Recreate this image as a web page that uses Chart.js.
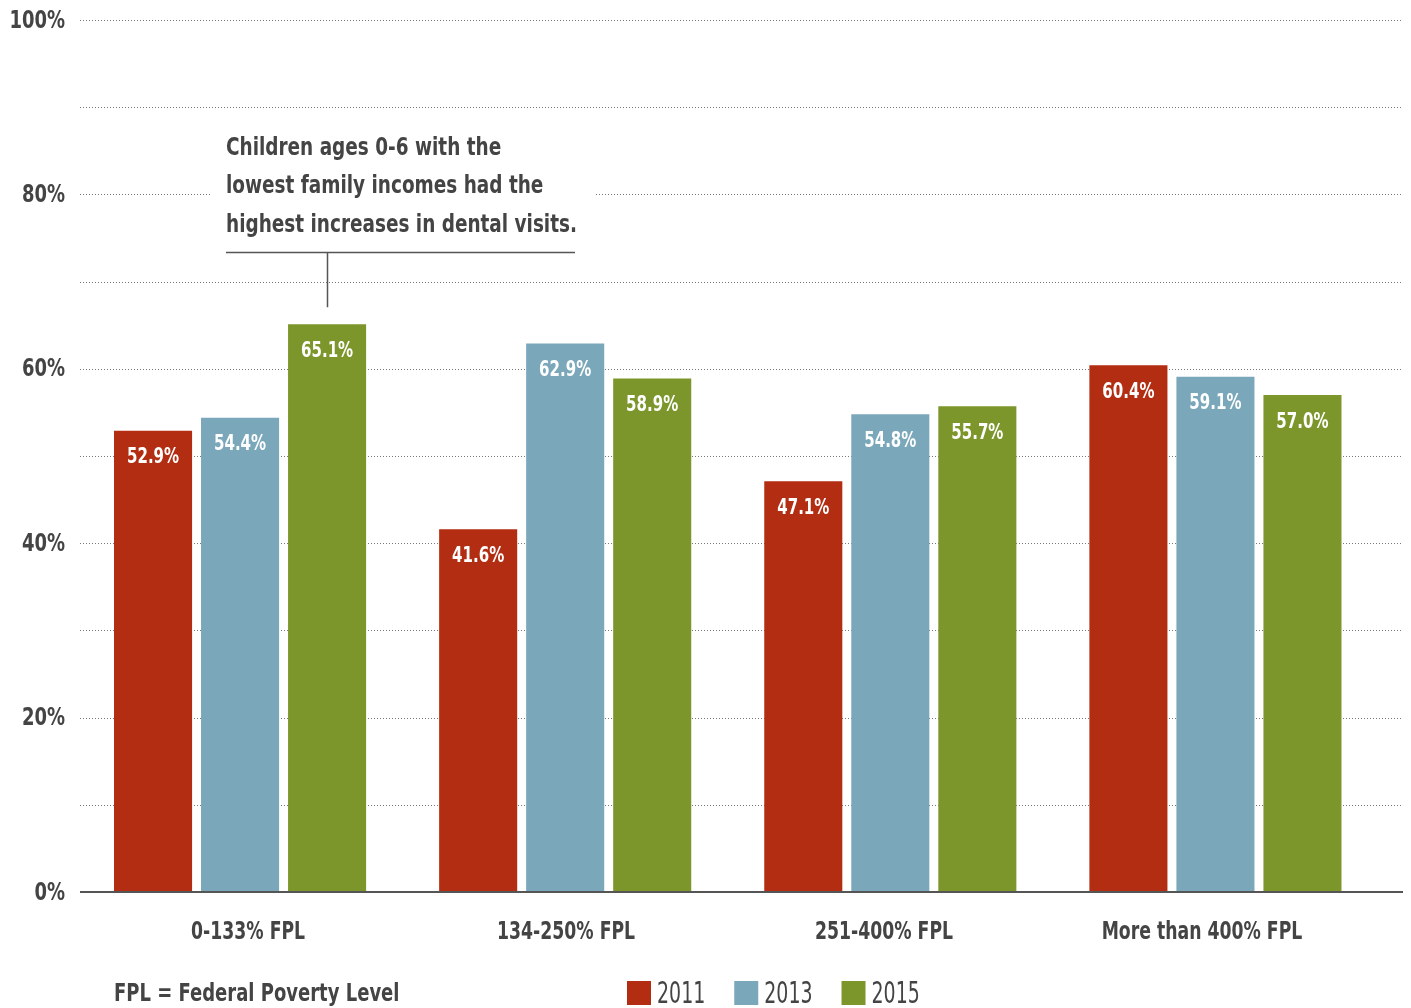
<!DOCTYPE html>
<html>
<head>
<meta charset="utf-8">
<script src="https://cdn.jsdelivr.net/npm/chart.js@4.4.1/dist/chart.umd.min.js"></script>
<style>
  html, body { margin: 0; padding: 0; background: #fff; }
  #wrap { width: 1411px; height: 1008px; }
</style>
</head>
<body>
<div id="wrap"><canvas id="myChart" width="1411" height="1008"></canvas></div>
<script>
// data
const categories = ['0-133% FPL', '134-250% FPL', '251-400% FPL', 'More than 400% FPL'];
const years = ['2011', '2013', '2015'];
const values2011 = [52.9, 41.6, 47.1, 60.4];
const values2013 = [54.4, 62.9, 54.8, 59.1];
const values2015 = [65.1, 58.9, 55.7, 57.0];
const colors = ['#b22d12', '#7aa7ba', '#7c962b'];
const annotationLines = [
  'Children ages 0-6 with the',
  'lowest family incomes had the',
  'highest increases in dental visits.'
];
const footnote = 'FPL = Federal Poverty Level';

const FONT = '"DejaVu Sans Condensed", "DejaVu Sans", sans-serif';
const TEXT = '#444444';

// the original typeface is a narrow one, so squeeze text horizontally
function squeezeText(ctx, text, x, y, sx) {
  ctx.save();
  ctx.translate(x, y);
  ctx.scale(sx, 1);
  ctx.fillText(text, 0, 0);
  ctx.restore();
}

// dotted grid + solid baseline, drawn wider than the category area
const gridPlugin = {
  id: 'gridPlugin',
  beforeDatasetsDraw(chart) {
    const ctx = chart.ctx;
    const y = chart.scales.y;
    const x0 = 80, x1 = chart.width - 8;
    ctx.save();
    ctx.strokeStyle = '#777';
    ctx.lineWidth = 1;
    ctx.setLineDash([1, 2]);
    for (let v = 10; v <= 100; v += 10) {
      const py = Math.round(y.getPixelForValue(v)) + 0.5;
      ctx.beginPath();
      ctx.moveTo(x0, py);
      ctx.lineTo(x1, py);
      ctx.stroke();
    }
    ctx.restore();
  },
  afterDatasetsDraw(chart) {
    const ctx = chart.ctx;
    const py = chart.scales.y.getPixelForValue(0);
    ctx.save();
    ctx.strokeStyle = '#555';
    ctx.lineWidth = 2;
    ctx.beginPath();
    ctx.moveTo(80, py);
    ctx.lineTo(chart.width - 8, py);
    ctx.stroke();
    ctx.restore();
  }
};

// tick labels taken from the scales, drawn narrow
const tickLabels = {
  id: 'tickLabels',
  afterDraw(chart) {
    const ctx = chart.ctx;
    const xs = chart.scales.x, ys = chart.scales.y;
    ctx.save();
    ctx.fillStyle = TEXT;
    ctx.textBaseline = 'middle';
    ctx.font = 'bold 25px ' + FONT;
    ctx.textAlign = 'right';
    ys.ticks.forEach((t, i) => {
      if (t.value % 20 === 0) squeezeText(ctx, t.value + '%', 65, ys.getPixelForTick(i) + 1, 0.8);
    });
    ctx.font = 'bold 24px ' + FONT;
    ctx.textAlign = 'center';
    // category labels sit on a slightly tighter pitch than the bar groups
    xs.ticks.forEach((t, i) => {
      const lx = xs.left + (xs.getPixelForTick(i) - xs.left) * 0.978 + 11.6;
      squeezeText(ctx, chart.data.labels[i], lx, 933, 0.8);
    });
    ctx.restore();
  }
};

// white value labels inside the top of each bar
const valueLabels = {
  id: 'valueLabels',
  afterDatasetsDraw(chart) {
    const ctx = chart.ctx;
    ctx.save();
    ctx.fillStyle = '#fff';
    ctx.font = 'bold 22px ' + FONT;
    ctx.textAlign = 'center';
    ctx.textBaseline = 'middle';
    chart.data.datasets.forEach((ds, i) => {
      chart.getDatasetMeta(i).data.forEach((bar, j) => {
        squeezeText(ctx, ds.data[j].toFixed(1) + '%', bar.x, bar.y + 27, 0.76);
      });
    });
    ctx.restore();
  }
};

// callout over the first 2015 bar, footnote and legend
const extras = {
  id: 'extras',
  afterDraw(chart) {
    const ctx = chart.ctx;
    ctx.save();
    // gap in the grid behind the callout text
    ctx.fillStyle = '#fff';
    ctx.fillRect(212, 126, 383, 116);

    ctx.fillStyle = TEXT;
    ctx.font = 'bold 25px ' + FONT;
    ctx.textAlign = 'left';
    ctx.textBaseline = 'middle';
    annotationLines.forEach((t, i) => squeezeText(ctx, t, 226, 148 + i * 38.5, 0.82));

    const bar = chart.getDatasetMeta(2).data[0];
    ctx.strokeStyle = '#555';
    ctx.lineWidth = 1.5;
    ctx.beginPath();
    ctx.moveTo(226, 252.5);
    ctx.lineTo(575, 252.5);
    ctx.moveTo(Math.round(bar.x) + 0.5, 252.5);
    ctx.lineTo(Math.round(bar.x) + 0.5, bar.y - 17);
    ctx.stroke();

    // footnote
    ctx.font = 'bold 25px ' + FONT;
    squeezeText(ctx, footnote, 114, 994, 0.8);

    // legend
    ctx.font = '31px ' + FONT;
    let lx = 627;
    chart.data.datasets.forEach(ds => {
      ctx.fillStyle = ds.backgroundColor;
      ctx.fillRect(lx, 981, 24, 24);
      ctx.fillStyle = TEXT;
      squeezeText(ctx, ds.label, lx + 30, 995, 0.68);
      lx += 30 + ctx.measureText(ds.label).width * 0.68 + 29;
    });
    ctx.restore();
  }
};

const dataSource = {
  labels: categories,
  datasets: [values2011, values2013, values2015].map((d, i) => ({
    label: years[i],
    data: d,
    backgroundColor: colors[i],
    categoryPercentage: 0.803,
    barPercentage: 0.897
  }))
};

new Chart(document.getElementById('myChart').getContext('2d'), {
  type: 'bar',
  data: dataSource,
  plugins: [gridPlugin, valueLabels, tickLabels, extras],
  options: {
    responsive: false,
    animation: false,
    layout: { padding: { top: 20, right: 33, left: 0, bottom: 0 } },
    plugins: { legend: { display: false }, tooltip: { enabled: false } },
    scales: {
      x: {
        grid: { display: false, drawTicks: false },
        border: { display: false },
        ticks: { display: false },
        afterFit(scale) { scale.height = 116; }
      },
      y: {
        min: 0,
        max: 100,
        grid: { display: false, drawTicks: false },
        border: { display: false },
        ticks: { display: false, stepSize: 10 },
        afterFit(scale) { scale.width = 77.5; }
      }
    }
  }
});
</script>
</body>
</html>
